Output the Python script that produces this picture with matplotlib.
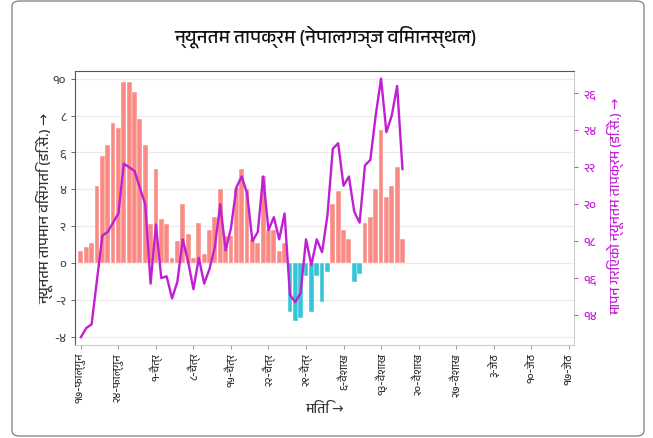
import numpy as np
import matplotlib
matplotlib.use('Agg')
import matplotlib.pyplot as plt
from matplotlib import font_manager
from matplotlib.ft2font import FT2Font
from matplotlib.patches import FancyBboxPatch

# find a font that has Devanagari glyphs, if any is installed
deva = None
fonts = sorted(font_manager.fontManager.ttflist, key=lambda f: 'Devanagari' not in f.name)
for f in fonts:
    try:
        if 0x0928 in FT2Font(f.fname).get_charmap():
            deva = f.name
            break
    except Exception:
        pass
if deva:
    plt.rcParams['font.family'] = [deva, 'DejaVu Sans']

# daily data starting 17-Falgun (day 0)
days = np.arange(61)
anomaly = [0.68, 0.90, 1.12, 4.18, 5.80, 6.41, 7.62, 7.32, 9.84, 9.84,
           9.30, 7.80, 6.41, 2.11, 5.10, 2.40, 2.11, 0.29, 1.21, 3.19,
           1.60, 0.29, 2.20, 0.49, 1.80, 2.50, 4.00, 1.50, 1.50, 4.09,
           5.10, 4.00, 1.30, 1.10, 4.70, 1.80, 1.80, 0.68, 1.10, -2.61,
           -3.10, -2.97, -0.67, -2.61, -0.67, -2.07, -0.49, 3.19, 3.89, 1.80,
           1.30, -0.99, -0.58, 2.20, 2.50, 4.00, 7.21, 3.60, 4.20, 5.19,
           1.30]
tmin = [12.8, 13.3, 13.5, 15.9, 18.3, 18.5, 19.0, 19.5, 22.2, 22.0,
        21.8, 20.9, 20.0, 15.7, 18.9, 16.0, 16.1, 14.9, 15.8, 18.1,
        16.9, 15.4, 17.1, 15.7, 16.5, 17.7, 20.0, 17.5, 18.7, 20.9,
        21.5, 20.6, 18.0, 18.5, 21.5, 18.6, 19.3, 18.1, 19.5, 15.1,
        14.7, 15.2, 18.1, 16.7, 18.1, 17.4, 19.4, 23.0, 23.3, 21.0,
        21.5, 19.6, 19.0, 22.1, 22.4, 24.8, 26.8, 23.9, 24.8, 26.4,
        21.9]

xtick_pos = np.arange(0, 92, 7)
xtick_lab = ['१७-फाल्गुन', '२४-फाल्गुन', '१-चैत्र', '८-चैत्र', '१५-चैत्र', '२२-चैत्र',
             '२९-चैत्र', '६-वैशाख', '१३-वैशाख', '२०-वैशाख', '२७-वैशाख', '३-जेठ',
             '१०-जेठ', '१७-जेठ']
ytick_pos = [-4, -2, 0, 2, 4, 6, 8, 10]
ytick_lab = ['-४', '-२', '०', '२', '४', '६', '८', '१०']
y2tick_pos = [14, 16, 18, 20, 22, 24, 26]
y2tick_lab = ['१४', '१६', '१८', '२०', '२२', '२४', '२६']

offset = 16.8
ylo, yhi = -4.42, 10.41
mag = '#c21fd4'

fig = plt.figure(figsize=(6.53, 4.39), dpi=100)
ax = fig.add_axes([75/653, 1-346/439, (574-75)/653, (346-72)/439])

anomaly = np.array(anomaly)
cols = np.where(anomaly >= 0, '#f98a84', '#34c5d6')
ax.bar(days, anomaly, width=0.9, color=cols, edgecolor='white', linewidth=0.3, zorder=2)

ax.set_xlim(-1.1, 92)
ax.set_ylim(ylo, yhi)
ax.set_yticks(ytick_pos)
ax.set_yticklabels(ytick_lab)
ax.set_xticks(xtick_pos)
ax.set_xticklabels(xtick_lab, rotation=90)
ax.grid(axis='y', color='#ebebeb', lw=0.8, zorder=0)
ax.set_axisbelow(True)
ax.tick_params(colors='#4d4d4d', labelsize=9, length=3, width=0.6)
ax.tick_params(axis='x', colors='#888888', labelcolor='#333333', labelsize=7.8, pad=2)
ax.spines['left'].set_color('#555555')
ax.spines['top'].set_color('#555555')
ax.spines['right'].set_color('#cccccc')
ax.spines['bottom'].set_color('#cccccc')

ax2 = ax.twinx()
ax2.plot(days, tmin, color=mag, lw=1.7, zorder=3)
ax2.set_ylim(ylo+offset, yhi+offset)
ax2.set_yticks(y2tick_pos)
ax2.set_yticklabels(y2tick_lab)
ax2.tick_params(colors=mag, labelsize=9, length=3, width=0.6)
for s in ax2.spines.values():
    s.set_visible(False)

fig.text(326/653, 1-37/439, 'न्यूनतम तापक्रम (नेपालगञ्ज विमानस्थल)', ha='center', va='center',
         fontsize=13.5, fontweight='bold', color='#111111')
fig.text(45/653, 1-208/439, 'न्यूनतम तापमान विसंगति (डि.से.) →', ha='center', va='center',
         rotation=90, fontsize=10.5, color='#333333')
fig.text(616/653, 1-206/439, 'मापन गरिएको न्यूनतम तापक्रम (डि.से.) →', ha='center', va='center',
         rotation=90, fontsize=10, color=mag)
fig.text(325/653, 1-409/439, 'मिति →', ha='center', va='center', fontsize=10, color='#333333')

frame = FancyBboxPatch((12/653, 2/439), (644-12)/653, (437-2)/439,
                       boxstyle='round,pad=0,rounding_size=0.012', transform=fig.transFigure,
                       fill=False, edgecolor='#8a8a8a', lw=1)
fig.patches.append(frame)

plt.savefig('out.png', dpi=100)
